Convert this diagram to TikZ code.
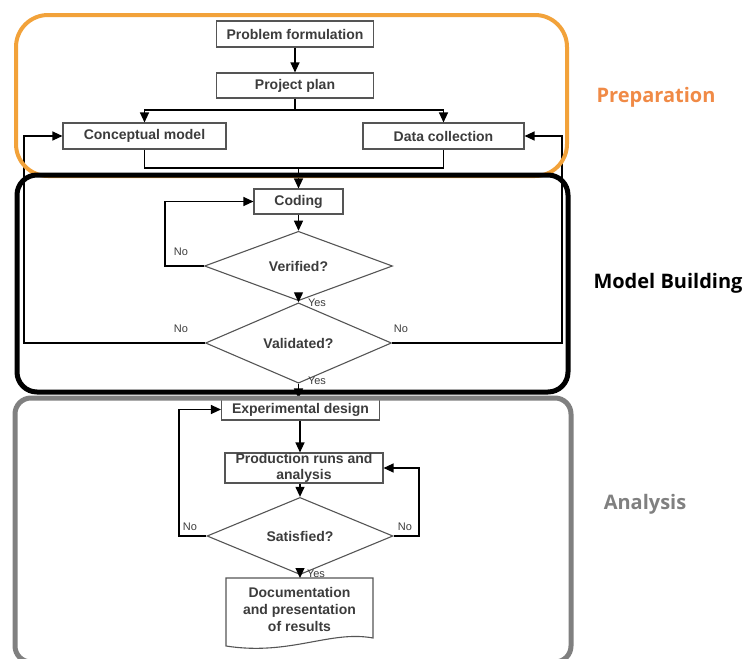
\documentclass[tikz,border=0pt]{standalone}
\usepackage{fontspec}
\setmainfont{Liberation Sans}
\newfontfamily\labelfont{Open Sans}
\usetikzlibrary{shapes.geometric,arrows.meta,calc}
\definecolor{boxgray}{HTML}{555555}
\definecolor{txtgray}{HTML}{3C3C3C}
\definecolor{frameorange}{HTML}{F2A23A}
\definecolor{laborange}{HTML}{F08A46}
\definecolor{framegray}{HTML}{808080}
\begin{document}
\begin{tikzpicture}[x=1pt,y=-1pt,
  box/.style={draw=boxgray, line width=1.1pt, fill=white, text=txtgray,
    font=\fontsize{14}{16}\selectfont\bfseries, inner sep=0pt, align=center},
  dia/.style={diamond, draw=boxgray, line width=1.1pt, fill=white, text=txtgray,
    font=\fontsize{14}{16}\selectfont\bfseries, inner sep=0pt},
  arr/.style={draw=black, line width=1.2pt, -{Triangle[length=10pt,width=9pt]}},
  ln/.style={draw=black, line width=1.2pt},
  lab/.style={font=\fontsize{11}{13}\selectfont, text=txtgray, inner sep=0pt},
  phase/.style={font=\labelfont\bfseries\fontsize{20}{24}\selectfont, inner sep=0pt}
]
\useasboundingbox (0,0) rectangle (745,659);
\clip (0,0) rectangle (745,659);

% nodes
\node[box, minimum width=157pt, minimum height=26pt] (pf) at (295,34) {Problem formulation};
\node[box, minimum width=157pt, minimum height=25pt] (pp) at (295,85.5) {Project plan};
\node[box, minimum width=163pt, minimum height=26pt] (cm) at (144.5,136) {Conceptual model};
\node[box, minimum width=161pt, minimum height=26pt] (dc) at (443.5,136) {Data collection};
\node[box, minimum width=89pt, minimum height=25pt] (cod) at (298.5,201.5) {Coding};
\node[dia, minimum width=188pt, minimum height=50pt] (ver) at (298.5,266) {Verified?};
\node[dia, minimum width=186pt, minimum height=50pt] (val) at (298.5,343) {Validated?};
\node[box, minimum width=158pt, minimum height=21pt] (exp) at (300.5,409.5) {Experimental design};
\node[box, minimum width=158pt, minimum height=30pt] (prod) at (304,468) {Production runs and\\analysis};
\node[dia, minimum width=186pt, minimum height=51pt] (sat) at (300,536) {Satisfied?};
\draw[draw=boxgray, line width=1.1pt, fill=white] (226,578) -- (373,578) -- (373,638)
  .. controls (330,630) and (290,656) .. (226,646) -- cycle;
\node[text=txtgray, font=\fontsize{14}{17}\selectfont\bfseries, align=center, inner sep=0pt] (doc) at (299.5,609) {Documentation\\and presentation\\of results};

% connectors
\draw[arr] (pf.south) -- (pp.north);
\coordinate (br) at (295,110);
\draw[ln] (pp.south) -- (br);
\draw[arr] (br) -| (cm.north);
\draw[arr] (br) -| (dc.north);
\coordinate (mg) at (298.5,168);
\draw[ln] (cm.south) |- (mg);
\draw[ln] (dc.south) |- (mg);
\draw[arr] (mg) -- (cod.north);
\draw[arr] (cod.south) -- (ver.north);
\coordinate (vl) at (165,266);
\draw[arr] (ver.west) -- (vl) |- (cod.west);
\draw[arr] (ver.south) -- (val.north);
\coordinate (vall) at (24,343);
\coordinate (valr) at (562,343);
\draw[arr] (val.west) -- (vall) |- (cm.west);
\draw[arr] (val.east) -- (valr) |- (dc.east);
\draw[arr] (val.south) -- (val.south |- exp.north);
\draw[arr] (sat.north |- exp.south) -- (sat.north |- prod.north);
\draw[arr] (sat.north |- prod.south) -- (sat.north);
\coordinate (sr) at (419,536);
\coordinate (sl) at (179,536);
\draw[arr] (sat.east) -- (sr) |- (prod.east);
\draw[arr] (sat.west) -- (sl) |- (exp.west);
\draw[arr] (sat.south) -- (sat.south |- 0,578);

% small labels
\node[lab] (no1) at (181,252) {No};
\node[lab] (yes1) at (317,303) {Yes};
\node[lab] (no2) at (181,329) {No};
\node[lab] (no3) at (401,329) {No};
\node[lab] (yes2) at (317,381) {Yes};
\node[lab] (no4) at (190,527) {No};
\node[lab] (no5) at (405,527) {No};
\node[lab] (yes3) at (316,574) {Yes};

% frames
\draw[frameorange, line width=4pt, rounded corners=32pt] (16,15) rectangle (567,176);
\draw[black, line width=5pt, rounded corners=20pt] (17,175) rectangle (568,392);
\draw[framegray, line width=5pt, rounded corners=16pt] (15,398) rectangle (571,662);

% phase labels
\node[phase, text=laborange] (prep) at (656,97) {Preparation};
\node[phase, text=black] (mb) at (668,283) {Model Building};
\node[phase, text=framegray] (ana) at (645,504) {Analysis};
\end{tikzpicture}
\end{document}
